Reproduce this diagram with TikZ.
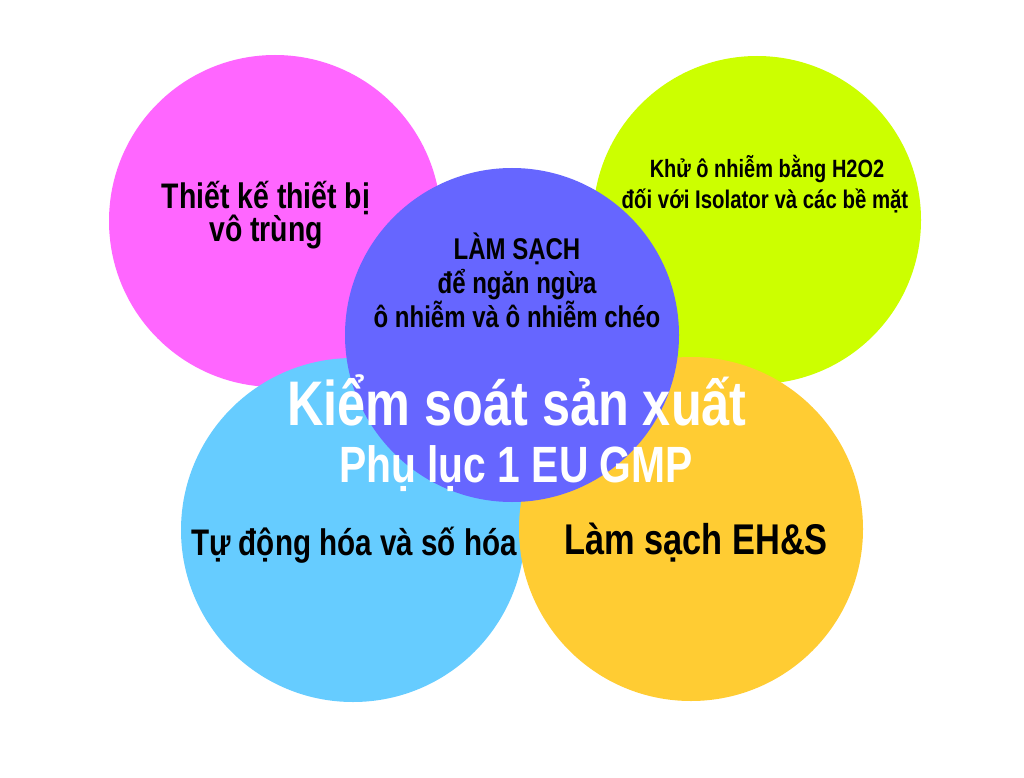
\documentclass[tikz,border=0pt]{standalone}
\usepackage{fontspec}
\newfontfamily\cf{Liberation Sans}[FakeStretch=0.8]
\definecolor{cmag}{HTML}{FF66FF}
\definecolor{cgrn}{HTML}{CCFF00}
\definecolor{cpur}{HTML}{6666FF}
\definecolor{cblu}{HTML}{66CCFF}
\definecolor{corg}{HTML}{FFCC33}
\tikzset{
  bub/.style={circle, inner sep=0pt, draw=none, minimum size=#1},
  lbl/.style={anchor=base, inner sep=0pt, text=black, font=\cf\bfseries\fontsize{#1}{#1}\selectfont},
  wlbl/.style={anchor=base, inner sep=0pt, text=white, font=\cf\bfseries\fontsize{#1}{#1}\selectfont}
}
\begin{document}
\begin{tikzpicture}[x=1pt,y=-1pt]
\useasboundingbox[fill=white] (0,0) rectangle (1024,778);
\node[bub=332pt, fill=cmag] (mag) at (275,221) {};
\node[bub=328pt, fill=cgrn] (grn) at (757,220) {};
\node[bub=344pt, fill=cblu] (blu) at (353,530) {};
\node[bub=344pt, fill=corg] (org) at (691,529) {};
\node[bub=334pt, fill=cpur] (pur) at (512,335) {};
% texts
\node[lbl=35.5] (t1a) at (266,208) {Thiết kế thiết bị};
\node[lbl=35.5] (t1b) at (266,241) {vô trùng};
\node[lbl=25] (t2a) at (767,178) {Khử ô nhiễm bằng H2O2};
\node[lbl=25.5] (t2b) at (765,208) {đối với Isolator và các bề mặt};
\node[lbl=30] (t3a) at (517,259) {LÀM SẠCH};
\node[lbl=30] (t3b) at (517,293) {để ngăn ngừa};
\node[lbl=30] (t3c) at (517,327) {ô nhiễm và ô nhiễm chéo};
\node[wlbl=63] (t4a) at (517,425) {Kiểm soát sản xuất};
\node[wlbl=51] (t4b) at (516,482) {Phụ lục 1 EU GMP};
\node[lbl=37] (t5) at (354,555) {Tự động hóa và số hóa};
\node[lbl=43] (t6) at (696,554) {Làm sạch EH\&S};
\end{tikzpicture}
\end{document}
